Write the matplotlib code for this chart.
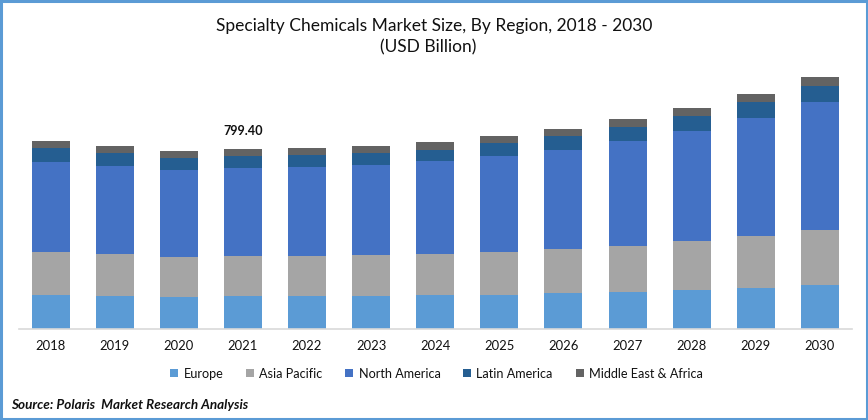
from matplotlib import pyplot as plt
from matplotlib.patches import Rectangle

plt.rcParams['font.family'] = ['Lato', 'DejaVu Sans']

years = ['2018', '2019', '2020', '2021', '2022', '2023', '2024',
         '2025', '2026', '2027', '2028', '2029', '2030']

# USD billion (2021 total is labelled 799.40)
europe = [152, 148, 143, 148.4, 148, 146, 151, 151, 160, 165, 174, 183, 196]
asia_pacific = [191, 186, 177, 177, 177, 182, 182, 191, 195, 204, 217, 231, 244]
north_america = [399, 390, 386, 390, 395, 399, 412, 426, 439, 466, 488, 523, 568]
latin_america = [62, 58, 53, 53, 53, 53, 49, 58, 62, 62, 67, 71, 71]
middle_east = [31, 31, 31, 31, 31, 31, 35, 31, 31, 35, 35, 35, 40]

series = [('Europe', europe, '#5B9BD5'),
          ('Asia Pacific', asia_pacific, '#A5A5A5'),
          ('North America', north_america, '#4472C4'),
          ('Latin America', latin_america, '#255E91'),
          ('Middle East & Africa', middle_east, '#636363')]

W, H = 868, 420
fig = plt.figure(figsize=(W / 100, H / 100), dpi=100)

# axes placed in pixels: baseline at y=329, left 18, right 852
ax = fig.add_axes([18.5 / W, (H - 329.3) / H, 833.5 / W, 300 / H])

bottom = [0] * len(years)
for name, values, color in series:
    ax.bar(years, values, width=0.593, bottom=bottom, color=color, label=name)
    bottom = [b + v for b, v in zip(bottom, values)]

ax.set_xlim(-0.5, len(years) - 0.5)
ax.set_ylim(0, 300 * 4.434)
ax.set_yticks([])
for side in ['top', 'left', 'right']:
    ax.spines[side].set_visible(False)
ax.spines['bottom'].set_color('#D9D9D9')
ax.spines['bottom'].set_linewidth(1.2)
ax.tick_params(axis='x', length=0, pad=8, labelsize=9.4, labelcolor='#111111')

# only 2021 has a value label
ax.annotate('799.40', xy=(3, bottom[3]), xytext=(0, 9), textcoords='offset points',
            ha='center', va='bottom', fontsize=9.1, fontweight='bold', color='#111111')

fig.text(434 / W, 1 - 26 / H, 'Specialty Chemicals Market Size, By Region, 2018 - 2030',
         ha='center', va='center', fontsize=12.55, color='#111111')
fig.text(428 / W, 1 - 47 / H, '(USD Billion)',
         ha='center', va='center', fontsize=12.55, color='#111111')

ax.legend(loc='center', bbox_to_anchor=(436.5 / W, 1 - 373.5 / H),
          bbox_transform=fig.transFigure, ncol=5, frameon=False, fontsize=9.1,
          handlelength=0.63, handleheight=0.63, handletextpad=0.42, columnspacing=1.8,
          labelcolor='#111111')

fig.text(11 / W, 1 - 405 / H, 'Source: Polaris  Market Research Analysis',
         ha='left', va='center', fontsize=9.75, fontweight='bold', style='italic',
         color='#111111')

# blue frame round the whole picture
fig.add_artist(Rectangle((1 / W, 1 / H), (W - 2) / W, (H - 2) / H, transform=fig.transFigure,
                         fill=False, edgecolor='#5B9BD5', linewidth=2.2))

fig.savefig('out.png', dpi=100)
